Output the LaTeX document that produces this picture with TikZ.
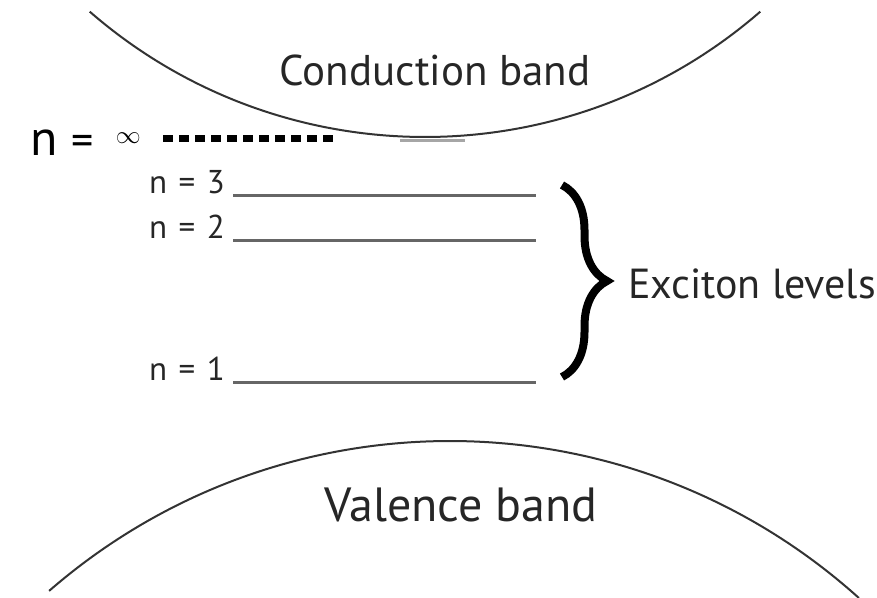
\documentclass[tikz,border=0pt]{standalone}
\usepackage{fontspec}
\setmainfont{PT Sans}
\usetikzlibrary{decorations.pathreplacing,positioning}
\begin{document}
\begin{tikzpicture}[x=1pt, y=-1pt,
  band/.style={line width=2pt, black!80},
  bandtext/.style={font=\fontsize{43}{45}\selectfont, text=black!85},
  lvltext/.style={font=\fontsize{33}{35}\selectfont, text=black!85, inner sep=0pt, anchor=base east},
  level/.style={line width=3pt, black!60},
  dotlevel/.style={line width=7pt, dash pattern=on 10pt off 6pt, black},
  bracestyle/.style={line width=8pt, decorate, decoration={brace, amplitude=45pt}}]
\useasboundingbox (0,0) rectangle (877,597);
% bands
\coordinate (cbc) at (425,-374);
\coordinate (vbc) at (450,1052);
\draw[band] (cbc) ++(131:511) arc[start angle=131, end angle=49, radius=511];
\draw[band] (vbc) ++(-131:611) arc[start angle=-131, end angle=-48, radius=611];
\draw[line width=3pt, black!35] (400,140) -- (465,140);
\node[bandtext] (cb) at (435,70) {Conduction band};
\node[bandtext, font=\fontsize{48}{50}\selectfont] (vb) at (461,505) {Valence band};
% n = infinity
\node[inner sep=0pt, anchor=base west, text=black] (ninf) at (30,155)
  {\fontsize{50}{50}\selectfont n\hspace{14pt}\fontsize{44}{44}\selectfont=\hspace{22pt}\raisebox{12pt}{\fontsize{28}{28}\selectfont$\infty$}};
\coordinate (dotstart) at (163,138);
\coordinate (dotend) at (339,138);
\draw[dotlevel] (dotstart) -- (dotend);
% exciton levels
\node[lvltext] (n3) at (225,193) {n\hspace{0.35em}=\hspace{0.35em}3};
\node[lvltext] (n2) at (225,238) {n\hspace{0.35em}=\hspace{0.35em}2};
\node[lvltext] (n1) at (225,380) {n\hspace{0.35em}=\hspace{0.35em}1};
\coordinate (lvlend) at (536,0);
\foreach \n in {n3,n2,n1}
  \draw[level] ([xshift=8pt, yshift=-2pt]\n.base east) -- ([yshift=-2pt]\n.base east -| lvlend);
\coordinate (btop) at (562,185);
\coordinate (bbot) at (562,377);
\draw[bracestyle] (btop) -- (bbot);
\node[font=\fontsize{42}{44}\selectfont, text=black!85, anchor=west, inner sep=0pt] (excl) at (628,284) {Exciton levels};
\end{tikzpicture}
\end{document}
